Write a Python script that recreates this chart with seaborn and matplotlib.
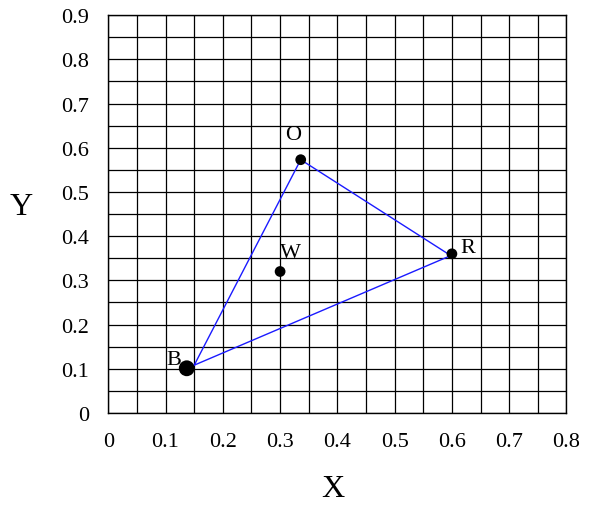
import matplotlib
matplotlib.use('Agg')
import matplotlib.pyplot as plt
from matplotlib.ticker import MultipleLocator, FixedLocator, FixedFormatter
import seaborn as sns
import pandas as pd

# points
names = ['B', 'O', 'R', 'W']
px = [0.137, 0.336, 0.600, 0.300]
py = [0.101, 0.573, 0.360, 0.320]
psize = [130, 60, 60, 60]

# triangle corners (B, O, R, back to B)
tri_x = [0.150, 0.336, 0.598, 0.150]
tri_y = [0.108, 0.573, 0.356, 0.108]

xticks = [0, 0.1, 0.2, 0.3, 0.4, 0.5, 0.6, 0.7, 0.8]
xtick_labels = ['0', '0.1', '0.2', '0.3', '0.4', '0.5', '0.6', '0.7', '0.8']
yticks = [0, 0.1, 0.2, 0.3, 0.4, 0.5, 0.6, 0.7, 0.8, 0.9]
ytick_labels = ['0', '0.1', '0.2', '0.3', '0.4', '0.5', '0.6', '0.7', '0.8', '0.9']

sns.set_style('white')
plt.rcParams['font.family'] = ['Liberation Serif', 'DejaVu Serif']
plt.rcParams['text.color'] = 'black'
plt.rcParams['axes.labelcolor'] = 'black'
plt.rcParams['xtick.color'] = 'black'
plt.rcParams['ytick.color'] = 'black'

pts = pd.DataFrame({'x': px, 'y': py, 'name': names, 'sz': psize})
tri = pd.DataFrame({'x': tri_x, 'y': tri_y})

fig = plt.figure(figsize=(5.95, 5.06), dpi=100)
ax = fig.add_axes([0.182, 0.182, 0.770, 0.786])

sns.lineplot(data=tri, x='x', y='y', sort=False, estimator=None, color='#1a1aff',
             linewidth=1.0, ax=ax, zorder=3)
sns.scatterplot(data=pts, x='x', y='y', size='name',
                sizes={n: s for n, s in zip(names, psize)},
                color='black', edgecolor='none', legend=False, ax=ax, zorder=4)

# point labels
offsets = {'B': (-0.022, 0.019), 'O': (-0.014, 0.058), 'R': (0.028, 0.015), 'W': (0.018, 0.044)}
for n, x, y in zip(names, px, py):
    dx, dy = offsets[n]
    ax.text(x + dx, y + dy, n, fontsize=16, ha='center', va='center', zorder=5)

ax.set_xlim(0, 0.8)
ax.set_ylim(0, 0.9)
ax.xaxis.set_major_locator(FixedLocator(xticks))
ax.xaxis.set_major_formatter(FixedFormatter(xtick_labels))
ax.yaxis.set_major_locator(FixedLocator(yticks))
ax.yaxis.set_major_formatter(FixedFormatter(ytick_labels))
ax.xaxis.set_minor_locator(MultipleLocator(0.05))
ax.yaxis.set_minor_locator(MultipleLocator(0.05))
ax.grid(True, which='both', color='black', linewidth=0.9)
ax.set_axisbelow(True)
ax.tick_params(axis='both', which='both', length=0, labelsize=16, labelcolor='black')
ax.tick_params(axis='x', pad=14)
ax.tick_params(axis='y', pad=14)
for s in ax.spines.values():
    s.set_color('black')
    s.set_linewidth(1.0)

ax.set_xlabel('X', fontsize=23, va='center')
ax.set_ylabel('Y', fontsize=23, rotation=0, va='center', ha='center')
ax.xaxis.set_label_coords(0.49, -0.19)
ax.yaxis.set_label_coords(-0.19, 0.52)

fig.savefig('out.png', dpi=100)
